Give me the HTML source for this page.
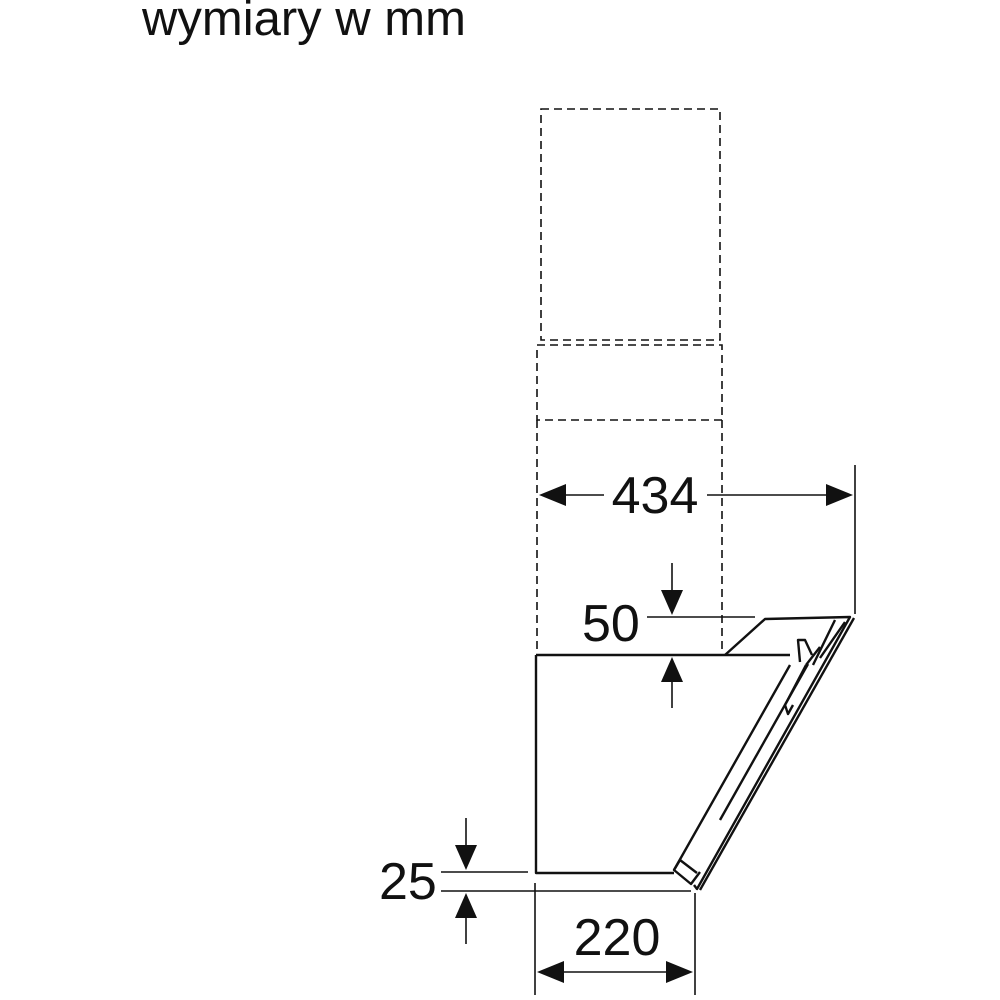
<!DOCTYPE html>
<html><head><style>
html,body{margin:0;padding:0;background:#fff;}
svg{display:block;}
text{font-family:"Liberation Sans",sans-serif;fill:#111;}
</style></head><body>
<svg width="1000" height="1000" viewBox="0 0 1000 1000">
<text x="142" y="35" font-size="49">wymiary w mm</text>
<g stroke="#111" stroke-width="1.6" fill="none" stroke-dasharray="8,5">
<rect x="541" y="109" width="179" height="231"/>
<rect x="537" y="345" width="185" height="75"/>
<line x1="537" y1="420" x2="537" y2="655"/>
<line x1="722" y1="420" x2="722" y2="655"/>
</g>
<g stroke="#111" stroke-width="1.6" fill="none">
<line x1="855" y1="465" x2="855" y2="614"/>
<line x1="560" y1="495" x2="604" y2="495"/>
<line x1="707" y1="495" x2="830" y2="495"/>
<line x1="672" y1="563" x2="672" y2="592"/>
<line x1="647" y1="617" x2="755" y2="617"/>
<line x1="672" y1="680" x2="672" y2="708"/>
<line x1="466" y1="818" x2="466" y2="848"/>
<line x1="441" y1="872" x2="528" y2="872"/>
<line x1="441" y1="891" x2="691" y2="891"/>
<line x1="466" y1="916" x2="466" y2="944"/>
<line x1="535" y1="883" x2="535" y2="995"/>
<line x1="695" y1="893" x2="695" y2="995"/>
<line x1="560" y1="972" x2="670" y2="972"/>
</g>
<g fill="#111">
<polygon points="539,495 566,484 566,506"/>
<polygon points="853,495 826,484 826,506"/>
<polygon points="672,615 661,590 683,590"/>
<polygon points="672,657 661,682 683,682"/>
<polygon points="466,870 455,845 477,845"/>
<polygon points="466,893 455,918 477,918"/>
<polygon points="537,972 564,961 564,983"/>
<polygon points="693,972 666,961 666,983"/>
</g>
<g stroke="#111" stroke-width="2.4" fill="none" stroke-linejoin="round">
<path d="M536,655 H790 M536,655 V873 H674"/>
<path d="M725,655 L765,619 L850,617 L697,889 L694,885"/>
<path d="M854,618 L700,890"/>
<path d="M790,665 L674,870 L691,884 L700,872"/>
<path d="M674,870 L680,860 L697,873"/>
<path d="M808,664 L720,820"/>
<path d="M820,647 L806,665 M800,662 L798,640 L805,640 L812,655"/>
<path d="M835,620 L813,665 M845,622 L820,658"/>
<path d="M806,665 L785,705 L788,714 L793,705"/>
</g>
<text x="379" y="899" font-size="52">25</text>
<text x="617" y="955" font-size="52" text-anchor="middle">220</text>
<text x="655" y="513" font-size="52" text-anchor="middle">434</text>
<text x="582" y="641" font-size="52">50</text>
</svg>
</body></html>
